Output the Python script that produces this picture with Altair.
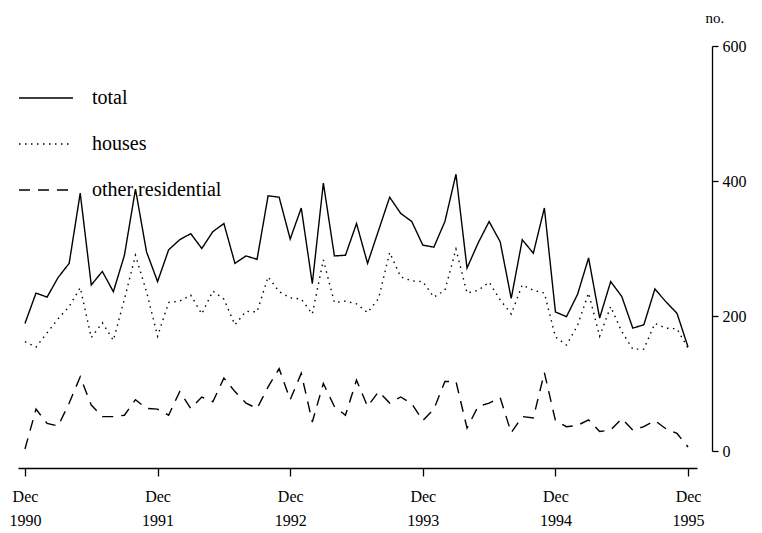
import altair as alt
import pandas as pd

# month index 0 = Dec 1990 ... 60 = Dec 1995
months = list(range(61))

total = [189, 234, 228, 257, 278, 382, 246, 266, 236, 290,
         388, 295, 251, 298, 313, 322, 300, 325, 337, 278,
         289, 284, 378, 376, 314, 360, 248, 397, 289, 290,
         337, 278, 327, 376, 352, 340, 305, 302, 340, 410,
         271, 308, 340, 310, 226, 313, 293, 360, 206, 199,
         232, 286, 197, 251, 229, 182, 187, 240, 221, 204,
         154]

houses = [162, 154, 175, 196, 214, 242, 168, 190, 164, 225,
          290, 236, 170, 220, 222, 231, 203, 237, 225, 187,
          207, 206, 258, 236, 227, 225, 203, 283, 220, 222,
          218, 205, 226, 294, 258, 252, 251, 228, 238, 299,
          234, 238, 250, 224, 203, 246, 238, 234, 169, 157,
          186, 234, 170, 214, 177, 151, 151, 189, 182, 181,
          152]

other = [3, 62, 41, 37, 71, 110, 68, 51, 51, 53,
         76, 63, 62, 53, 88, 63, 80, 73, 108, 88,
         71, 63, 95, 122, 76, 115, 43, 100, 66, 53,
         105, 66, 88, 71, 80, 70, 45, 62, 103, 103,
         34, 66, 71, 79, 27, 51, 49, 116, 45, 36,
         38, 46, 29, 31, 48, 31, 36, 45, 33, 26,
         6]

series_names = ["total", "houses", "other residential"]
tick_months = [0, 12, 24, 36, 48, 60]
y_ticks = [0, 200, 400, 600]

rows = []
for name, vals in zip(series_names, [total, houses, other]):
    for m, v in zip(months, vals):
        rows.append({"month": m, "value": v, "series": name})
df = pd.DataFrame(rows)

FONT = "Liberation Serif"

chart = alt.Chart(df).mark_line(color="black", strokeWidth=1.4).encode(
    x=alt.X("month:Q",
            scale=alt.Scale(domain=[-0.63, 60.81], nice=False, zero=False),
            axis=alt.Axis(values=tick_months, title=None, grid=False,
                          offset=17, tickSize=8, tickColor="black",
                          domainColor="black", domainWidth=1.3, tickWidth=1.3,
                          labelExpr="['Dec', toString(1990 + datum.value / 12)]",
                          labelFont=FONT, labelFontSize=16, labelColor="black",
                          labelLineHeight=24, labelPadding=12)),
    y=alt.Y("value:Q",
            scale=alt.Scale(domain=[0, 600], nice=False),
            axis=alt.Axis(orient="right", values=y_ticks, grid=False, offset=15,
                          tickSize=6, tickColor="black", tickWidth=1.3,
                          domainColor="black", domainWidth=1.3,
                          labelFont=FONT, labelFontSize=16, labelColor="black",
                          labelPadding=4,
                          title="no.", titleAngle=0, titleX=-7, titleY=-24,
                          titleAlign="left", titleBaseline="alphabetic",
                          titleFont=FONT, titleFontSize=15,
                          titleFontWeight="normal", titleColor="black")),
    strokeDash=alt.StrokeDash("series:N",
                              scale=alt.Scale(domain=series_names,
                                              range=[[1, 0], [1.5, 4.5], [11, 8]]),
                              legend=alt.Legend(title=None, orient="none",
                                                legendX=0, legendY=24,
                                                symbolType="stroke",
                                                symbolSize=2916,
                                                symbolStrokeWidth=1.4,
                                                symbolStrokeColor="black",
                                                rowPadding=8, padding=0,
                                                labelOffset=18,
                                                labelFont=FONT, labelFontSize=20,
                                                labelColor="black")),
).properties(
    width=679, height=405,
    background="white",
    autosize=alt.AutoSizeParams(type="none"),
    padding={"left": 10, "top": 38, "right": 50, "bottom": 80},
).configure_view(stroke=None)

chart.save("out.html", embed_options={"renderer": "svg", "actions": False})
